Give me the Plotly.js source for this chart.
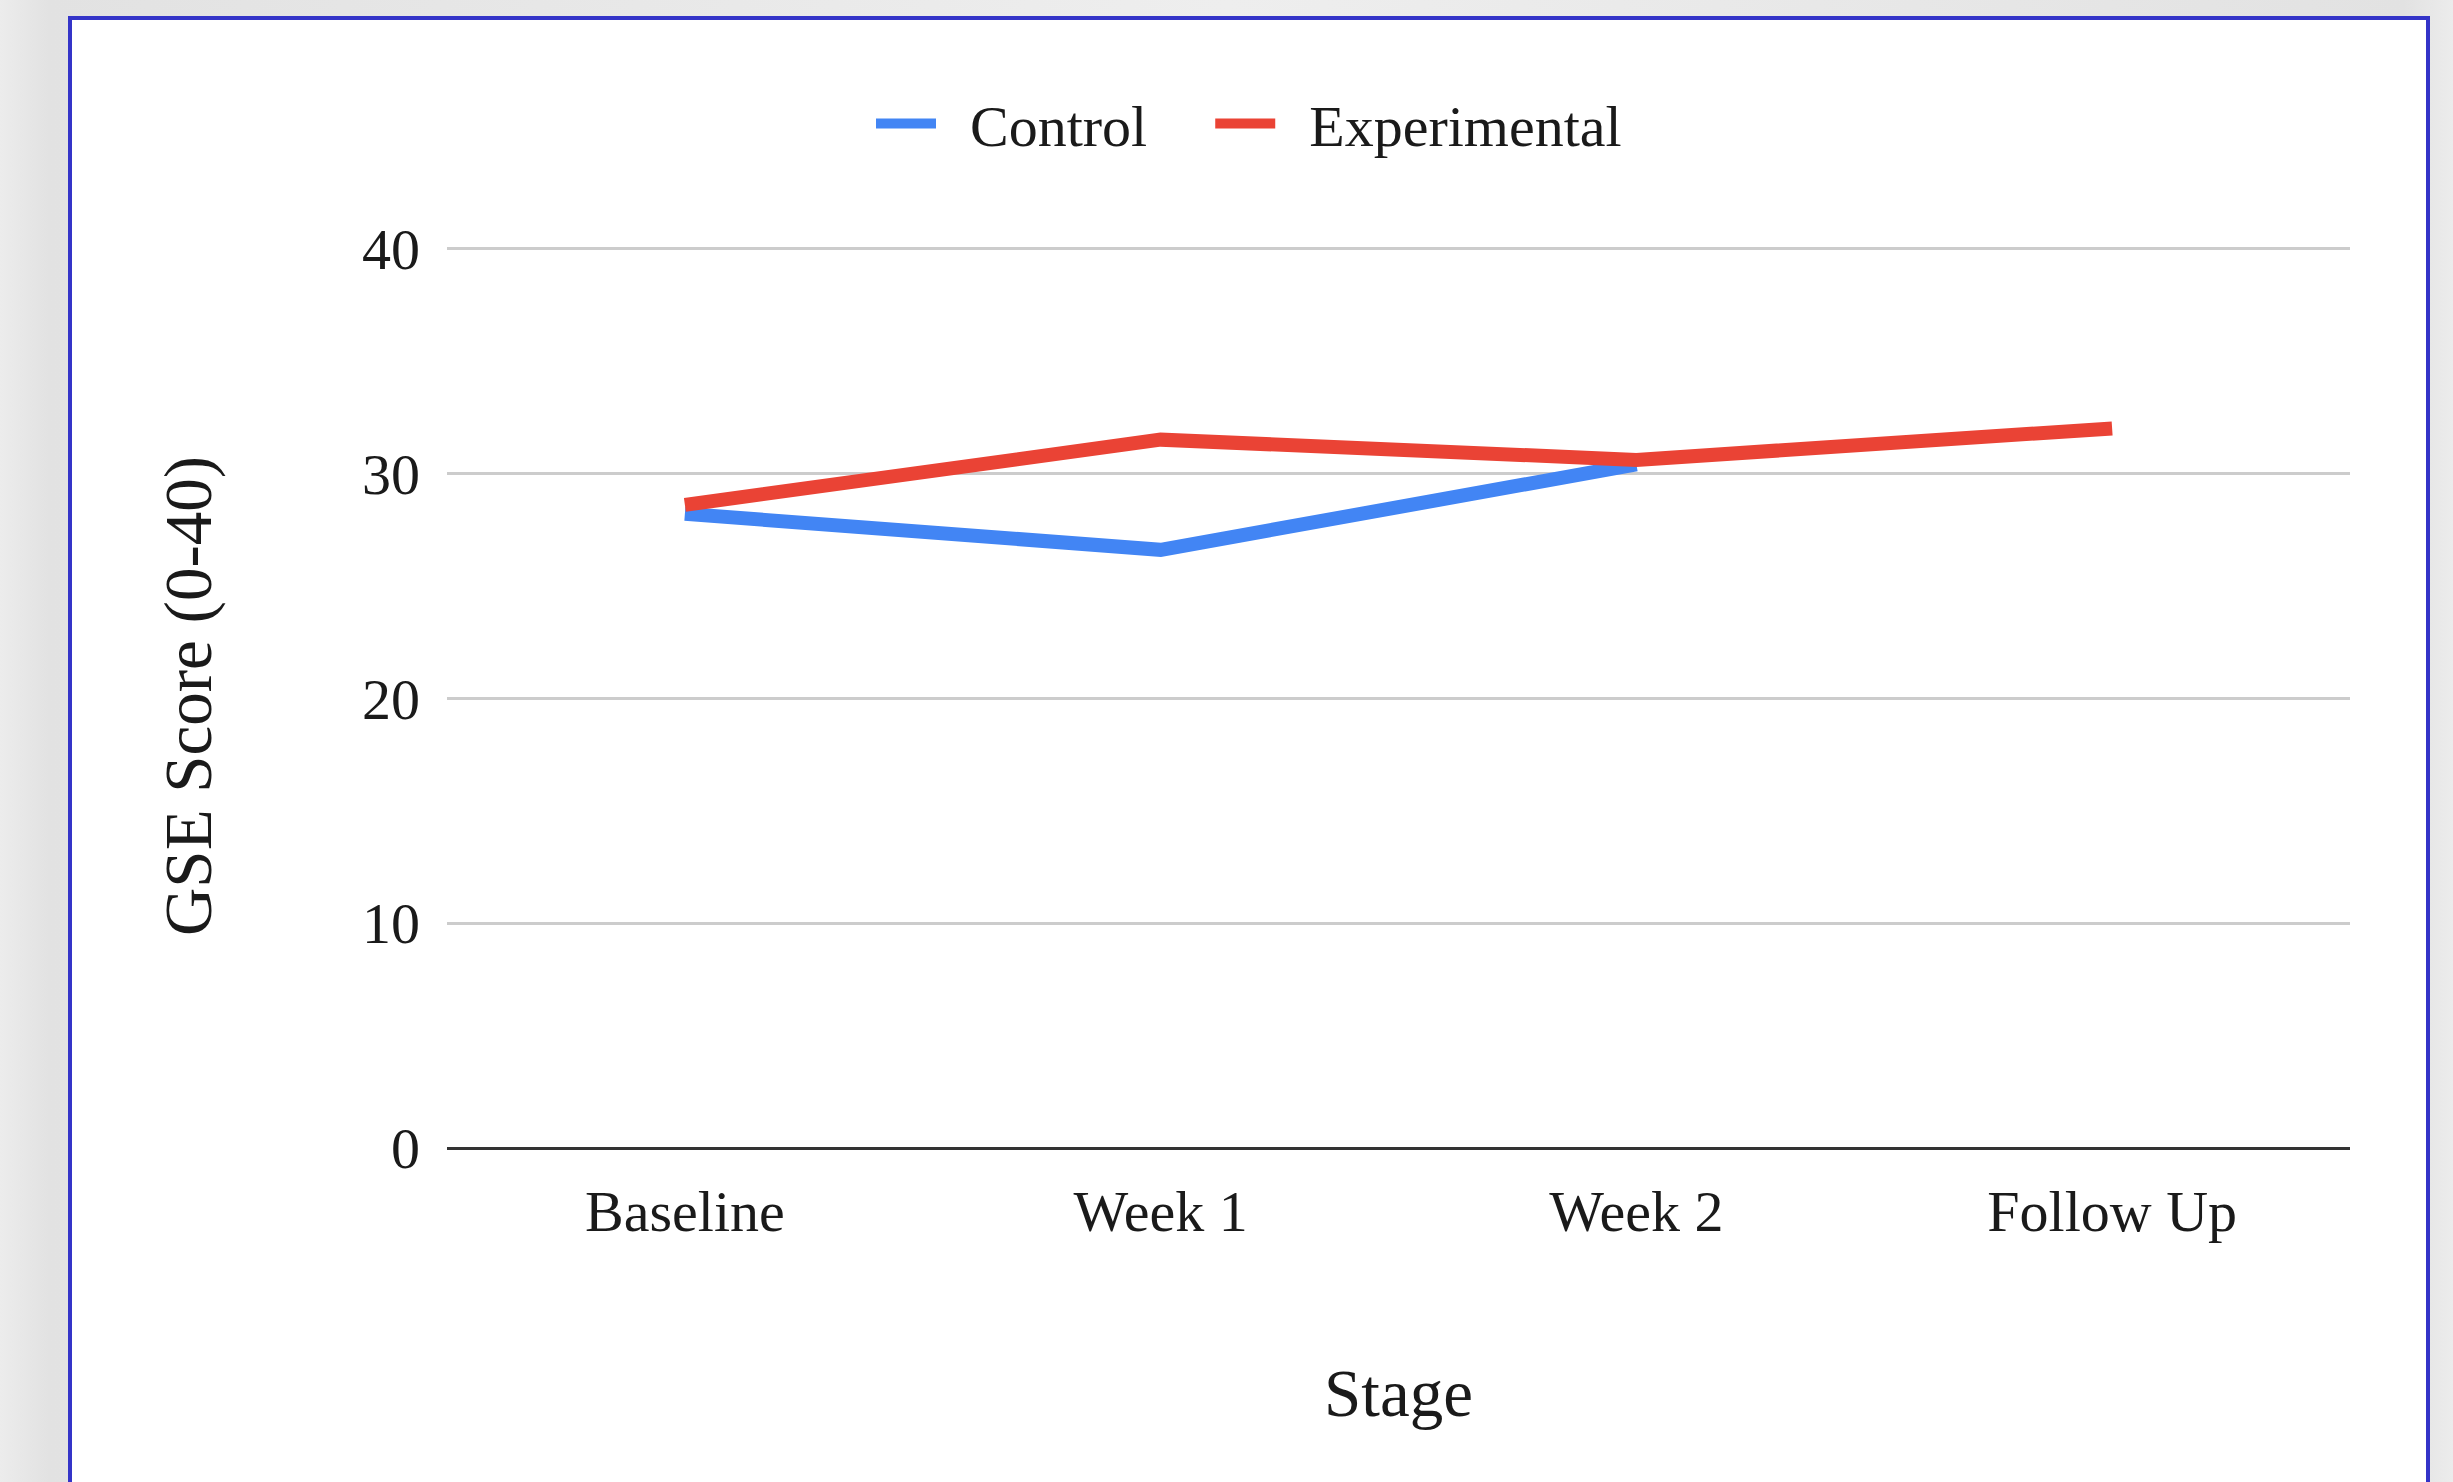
<!DOCTYPE html>
<html>
<head>
<meta charset="utf-8">
<script src="https://cdn.plot.ly/plotly-3.0.1.min.js"></script>
<style>
  html, body { margin: 0; padding: 0; width: 2453px; height: 1482px; overflow: hidden; }
  body { background: linear-gradient(90deg, #ececec 0%, #e2e2e2 2%, #eeeeee 50%, #e2e2e2 98%, #ececec 100%); }
  #frame { position: absolute; left: 68px; top: 16px; width: 2354px; height: 1500px;
           border: 4px solid #3434c8; background: #ffffff; }
  #chart { position: absolute; left: 0; top: 0; width: 2354px; height: 1462px; }
</style>
</head>
<body>
<div id="frame"><div id="chart"></div></div>
<script>
const stages = ['Baseline', 'Week 1', 'Week 2', 'Follow Up'];
const seriesNames = ['Control', 'Experimental'];
const controlScores = [28.2, 26.6, 30.4, null];
const experimentalScores = [28.6, 31.5, 30.6, 32.0];
const yTicks = [0, 10, 20, 30, 40];

const FONT = 'Liberation Serif, Times New Roman, serif';
const TXT = '#1a1a1a';
const LEAD = '\u00a0\u00a0';
const TRAIL = '\u00a0\u00a0\u00a0\u00a0';

const traces = [
  { type: 'scatter', mode: 'lines', name: LEAD + seriesNames[0] + TRAIL, x: stages, y: controlScores,
    line: { color: '#4285F4', width: 14 }, connectgaps: false, hoverinfo: 'skip' },
  { type: 'scatter', mode: 'lines', name: LEAD + seriesNames[1], x: stages, y: experimentalScores,
    line: { color: '#EA4335', width: 14 }, hoverinfo: 'skip' }
];

const layout = {
  width: 2354, height: 1462,
  margin: { l: 375, r: 76, t: 224, b: 334 },
  paper_bgcolor: '#ffffff', plot_bgcolor: '#ffffff',
  font: { family: FONT, color: TXT, size: 58 },
  showlegend: true,
  legend: {
    orientation: 'h', xref: 'container', yref: 'container',
    x: 0.5, xanchor: 'center', y: 0.929, yanchor: 'middle',
    font: { family: FONT, size: 58, color: TXT },
    itemwidth: 60, bgcolor: 'rgba(0,0,0,0)'
  },
  xaxis: {
    type: 'category', categoryorder: 'array', categoryarray: stages,
    range: [-0.5, 3.5], showgrid: false, zeroline: false, showline: false,
    ticks: '', ticklabelstandoff: 24,
    tickfont: { family: FONT, size: 58, color: TXT },
    title: { text: 'Stage', font: { family: FONT, size: 67, color: TXT }, standoff: 126 },
    fixedrange: true
  },
  yaxis: {
    range: [0, 40.2], tickvals: yTicks, ticktext: yTicks.map(String),
    showgrid: true, gridcolor: '#cccccc', gridwidth: 3,
    zeroline: true, zerolinecolor: '#333333', zerolinewidth: 3,
    showline: false, ticks: '', ticklabelstandoff: 26,
    tickfont: { family: FONT, size: 58, color: TXT },
    title: { text: 'GSE Score (0-40)', font: { family: FONT, size: 67, color: TXT }, standoff: 128 },
    fixedrange: true
  }
};

Plotly.newPlot('chart', traces, layout, { displayModeBar: false, staticPlot: true });
</script>
</body>
</html>
